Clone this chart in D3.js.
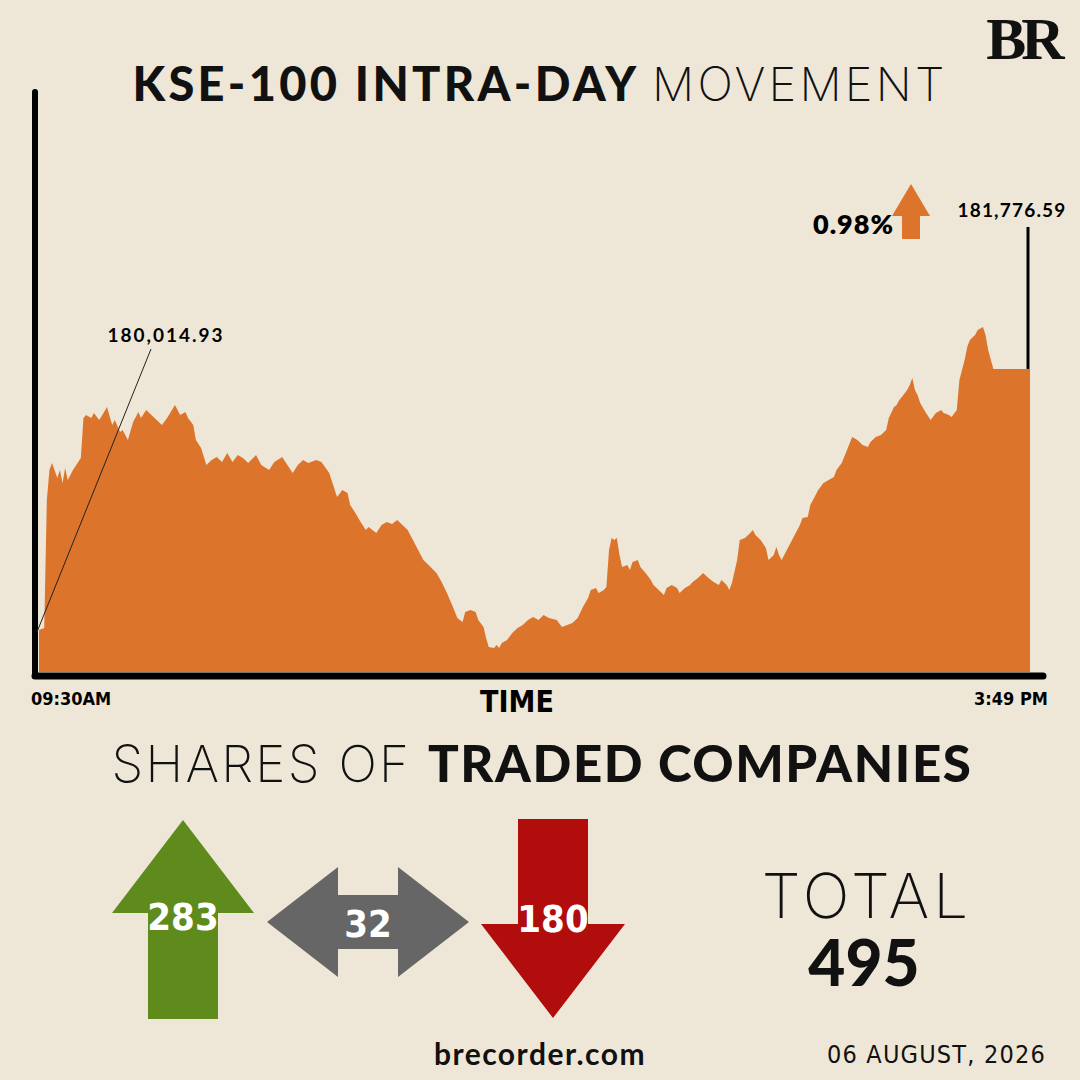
<!DOCTYPE html>
<html>
<head>
<meta charset="utf-8">
<script src="https://cdn.jsdelivr.net/npm/d3@7"></script>
<style>
  html, body { margin: 0; padding: 0; background: #EEE7D7; }
  #vis-display { width: 1080px; height: 1080px; }
  .bold   { font-family: "Lato", "Inter", sans-serif; font-weight: 900; }
  .thin   { font-family: "Inter", "Lato", sans-serif; font-weight: 200; }
  .narrow { font-family: "Liberation Sans Narrow", "DejaVu Sans Condensed", sans-serif; font-weight: 700; }
</style>
</head>
<body>
<div id="vis-display"></div>
<script>
// KSE-100 intra-day area chart + advancers / unchanged / decliners arrows.

// ── Data (minutes after 09:30 open, index level) ───────────────────────────
const minutes = [
  0, 2, 3, 4, 5, 7, 8, 9, 10, 11, 13, 15, 16, 17, 18, 20, 21, 23, 24, 26,
  28, 29, 31, 32, 34, 36, 38, 39, 41, 43, 45, 47, 49, 52, 54, 56, 57, 59, 60, 62,
  64, 66, 68, 70, 72, 74, 76, 78, 80, 83, 85, 88, 90, 93, 95, 97, 99, 101, 103, 106,
  108, 111, 114, 116, 118, 119, 121, 123, 125, 126, 129, 131, 133, 135, 137, 139, 141, 143, 145, 147,
  149, 152, 154, 156, 158, 160, 162, 163, 165, 167, 168, 170, 171, 172, 174, 175, 176, 177, 179, 181,
  183, 185, 187, 189, 191, 193, 195, 198, 200, 202, 204, 206, 208, 210, 211, 213, 214, 216, 217, 218,
  219, 220, 221, 222, 223, 225, 226, 227, 229, 230, 232, 234, 235, 237, 239, 240, 242, 244, 245, 247,
  249, 250, 252, 254, 256, 258, 260, 261, 263, 264, 265, 267, 268, 270, 272, 273, 274, 276, 278, 279,
  281, 282, 283, 284, 286, 288, 290, 291, 292, 294, 295, 296, 298, 300, 302, 304, 305, 307, 309, 311,
  313, 315, 317, 318, 320, 322, 324, 325, 327, 328, 329, 330, 332, 333, 334, 335, 336, 337, 339, 341,
  343, 345, 346, 348, 349, 351, 352, 354, 355, 356, 358, 359, 361, 362, 363, 365, 379
];

const values = [
  180014.93, 180028, 180892, 181095, 181142, 181041, 181095, 181007, 181108, 181027,
  181095, 181149, 181176, 181446, 181466, 181446, 181480, 181432, 181459, 181520,
  181399, 181432, 181351, 181365, 181297, 181419, 181486, 181446, 181500, 181466,
  181432, 181399, 181446, 181534, 181466, 181486, 181446, 181399, 181297, 181243,
  181129, 181162, 181183, 181149, 181210, 181149, 181196, 181176, 181142, 181196,
  181129, 181095, 181149, 181183, 181129, 181075, 181129, 181162, 181142, 181162,
  181149, 181075, 180913, 180960, 180940, 180859, 180805, 180744, 180690, 180710,
  180670, 180724, 180744, 180730, 180757, 180724, 180690, 180622, 180555, 180487,
  180454, 180400, 180339, 180265, 180184, 180096, 180069, 180136, 180150, 180136,
  180082, 180035, 179961, 179900, 179893, 179914, 179893, 179927, 179947, 179995,
  180028, 180049, 180082, 180103, 180082, 180116, 180096, 180082, 180035, 180049,
  180062, 180096, 180170, 180231, 180285, 180298, 180265, 180285, 180305, 180555,
  180636, 180622, 180636, 180521, 180440, 180454, 180420, 180474, 180487, 180440,
  180400, 180352, 180319, 180285, 180251, 180298, 180319, 180298, 180265, 180298,
  180319, 180339, 180366, 180400, 180366, 180339, 180319, 180352, 180319, 180285,
  180332, 180487, 180622, 180636, 180670, 180690, 180656, 180622, 180568, 180487,
  180521, 180575, 180521, 180487, 180555, 180622, 180690, 180724, 180771, 180778,
  180859, 180892, 180960, 181007, 181027, 181048, 181095, 181142, 181230, 181318,
  181297, 181264, 181250, 181284, 181318, 181331, 181365, 181446, 181520, 181534,
  181567, 181588, 181635, 181669, 181716, 181635, 181601, 181547, 181486, 181432,
  181480, 181500, 181480, 181466, 181453, 181500, 181702, 181837, 181925, 181972,
  182006, 182040, 182060, 182006, 181905, 181776.59, 181776.59
];

const timeLabels   = ["09:30AM", "3:49 PM"];
const openLabel    = "180,014.93";
const closeLabel   = "181,776.59";
const changeLabel  = "0.98%";

const arrowKinds   = ["up", "flat", "down"];
const arrowCounts  = [283, 32, 180];
const arrowColors  = ["#5F8B1D", "#666666", "#B20D0D"];
const totalCount   = 495;

const BG     = "#EEE7D7";
const ORANGE = "#DD742C";

const W = 1080, H = 1080;

const svg = d3.select("#vis-display").append("svg")
  .attr("width", W)
  .attr("height", H)
  .style("background", BG);

// ── Title + logo ───────────────────────────────────────────────────────────

const title = svg.append("text")
  .attr("x", 540)
  .attr("y", 101)
  .attr("text-anchor", "middle")
  .style("font-size", "47px")
  .style("fill", "#111");
title.append("tspan").attr("class", "bold").style("letter-spacing", "3.3px").text("KSE-100 INTRA-DAY ");
title.append("tspan").attr("class", "thin").style("letter-spacing", "3.2px").text("MOVEMENT");

svg.append("text")
  .attr("x", 1023)
  .attr("y", 59)
  .attr("text-anchor", "middle")
  .style("font-family", "'Liberation Serif', 'DejaVu Serif', serif")
  .style("font-weight", 700)
  .style("font-size", "60px")
  .style("letter-spacing", "-5px")
  .style("fill", "#111")
  .text("BR");

// ── Scales ─────────────────────────────────────────────────────────────────

const x = d3.scaleLinear()
  .domain([0, 379])
  .range([39, 1030]);

const y = d3.scaleLinear()
  .domain([179731, 183646])
  .range([672, 92]);

// ── Area ───────────────────────────────────────────────────────────────────

const series = minutes.map((m, i) => ({ m, v: values[i] }));

const area = d3.area()
  .x(d => x(d.m))
  .y0(y(y.domain()[0]))
  .y1(d => y(d.v));

svg.append("path")
  .datum(series)
  .attr("d", area)
  .attr("fill", ORANGE);

// ── Axis lines ─────────────────────────────────────────────────────────────

const [x0, x1] = x.range();
const [yBase, yTop] = y.range();

svg.append("line")
  .attr("x1", x0 - 4).attr("x2", x0 - 4)
  .attr("y1", yTop).attr("y2", yBase + 4)
  .attr("stroke", "#000").attr("stroke-width", 6)
  .attr("stroke-linecap", "round");

svg.append("line")
  .attr("x1", x0 - 4).attr("x2", x1 + 13)
  .attr("y1", yBase + 4).attr("y2", yBase + 4)
  .attr("stroke", "#000").attr("stroke-width", 7)
  .attr("stroke-linecap", "round");

// Time labels
svg.append("text")
  .attr("class", "narrow")
  .attr("x", 31).attr("y", 705)
  .style("font-size", "18px")
  .text(timeLabels[0]);

svg.append("text")
  .attr("class", "narrow")
  .attr("x", 1048).attr("y", 705)
  .attr("text-anchor", "end")
  .style("font-size", "18px")
  .text(timeLabels[1]);

svg.append("text")
  .attr("class", "narrow")
  .attr("x", 517).attr("y", 712)
  .attr("text-anchor", "middle")
  .style("font-size", "30px")
  .text("TIME");

// ── Open / close annotations ───────────────────────────────────────────────

const first = series[0];
const last  = series[series.length - 1];

svg.append("line")
  .attr("x1", x(first.m) - 2).attr("y1", y(first.v) + 2)
  .attr("x2", 151).attr("y2", 349)
  .attr("stroke", "#222").attr("stroke-width", 1);

svg.append("text")
  .attr("class", "bold")
  .attr("x", 166).attr("y", 342)
  .attr("text-anchor", "middle")
  .style("font-size", "19px")
  .style("font-weight", 700)
  .style("letter-spacing", "2px")
  .text(openLabel);

svg.append("line")
  .attr("x1", x(last.m) - 2).attr("x2", x(last.m) - 2)
  .attr("y1", y(last.v)).attr("y2", 227)
  .attr("stroke", "#000").attr("stroke-width", 3);

svg.append("text")
  .attr("class", "bold")
  .attr("x", 1012).attr("y", 217)
  .attr("text-anchor", "middle")
  .style("font-size", "19px")
  .style("font-weight", 700)
  .style("letter-spacing", "1.2px")
  .text(closeLabel);

svg.append("text")
  .attr("class", "bold")
  .attr("x", 894).attr("y", 234)
  .attr("text-anchor", "end")
  .style("font-size", "27px")
  .style("font-weight", 800)
  .style("letter-spacing", "1px")
  .text(changeLabel);

// small orange up arrow next to the change
svg.append("path")
  .attr("d", "M911,184 L930,216 L920,216 L920,239 L902,239 L902,216 L892,216 Z")
  .attr("fill", ORANGE);

// ── Shares of traded companies ─────────────────────────────────────────────

const sub = svg.append("text")
  .attr("x", 542)
  .attr("y", 782)
  .attr("text-anchor", "middle")
  .style("font-size", "51px")
  .style("fill", "#111");
sub.append("tspan").attr("class", "thin").style("letter-spacing", "2.3px").text("SHARES OF ");
sub.append("tspan").attr("class", "bold").style("letter-spacing", "1.6px").text("TRADED COMPANIES");

const ax = d3.scalePoint()
  .domain(arrowKinds)
  .range([183, 553]);

function arrowPath(kind, cx) {
  if (kind === "up") {
    return `M${cx},820 L${cx + 71},913 L${cx + 35},913 L${cx + 35},1019 L${cx - 35},1019 L${cx - 35},913 L${cx - 71},913 Z`;
  }
  if (kind === "down") {
    return `M${cx},1018 L${cx + 72},924 L${cx + 35},924 L${cx + 35},819 L${cx - 35},819 L${cx - 35},924 L${cx - 72},924 Z`;
  }
  const cy = 922;
  return `M${cx - 101},${cy} L${cx - 30},${cy - 55} L${cx - 30},${cy - 27} L${cx + 30},${cy - 27} L${cx + 30},${cy - 55} ` +
         `L${cx + 101},${cy} L${cx + 30},${cy + 55} L${cx + 30},${cy + 27} L${cx - 30},${cy + 27} L${cx - 30},${cy + 55} Z`;
}

const arrows = svg.append("g")
  .selectAll("g")
  .data(arrowKinds.map((k, i) => ({ k, n: arrowCounts[i], c: arrowColors[i] })))
  .join("g");

arrows.append("path")
  .attr("d", d => arrowPath(d.k, ax(d.k)))
  .attr("fill", d => d.c);

arrows.append("text")
  .attr("class", "narrow")
  .attr("x", d => ax(d.k))
  .attr("y", d => d.k === "flat" ? 937 : d.k === "up" ? 930 : 932)
  .attr("text-anchor", "middle")
  .style("font-size", "38px")
  .style("fill", "#fff")
  .text(d => d.n);

svg.append("text")
  .attr("class", "thin")
  .attr("x", 867).attr("y", 918)
  .attr("text-anchor", "middle")
  .style("font-size", "62px")
  .style("letter-spacing", "4px")
  .style("fill", "#111")
  .text("TOTAL");

svg.append("text")
  .attr("class", "bold")
  .attr("x", 864).attr("y", 986)
  .attr("text-anchor", "middle")
  .style("font-size", "64px")
  .style("fill", "#111")
  .text(totalCount);

// ── Footer ─────────────────────────────────────────────────────────────────

svg.append("text")
  .attr("class", "bold")
  .attr("x", 540).attr("y", 1065)
  .attr("text-anchor", "middle")
  .style("font-size", "30px")
  .style("font-weight", 700)
  .style("letter-spacing", "1.5px")
  .style("fill", "#111")
  .text("brecorder.com");

svg.append("text")
  .attr("x", 1046).attr("y", 1063)
  .attr("text-anchor", "end")
  .style("font-family", "'Liberation Sans Narrow', 'DejaVu Sans Condensed', sans-serif")
  .style("font-size", "25px")
  .style("letter-spacing", "1.2px")
  .style("fill", "#111")
  .text("06 AUGUST, 2026");
</script>
</body>
</html>
